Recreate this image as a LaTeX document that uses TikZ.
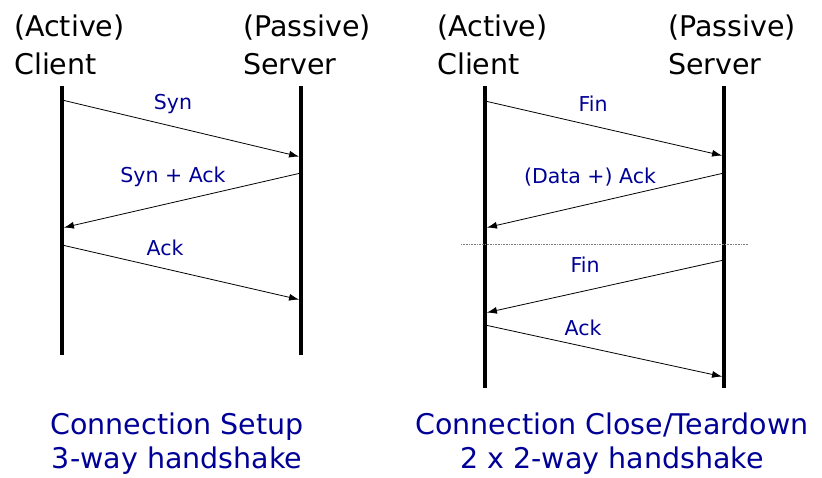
\documentclass[tikz,border=0pt]{standalone}
\usepackage{fontspec}
\setmainfont{DejaVu Sans}
\usetikzlibrary{arrows.meta}
\definecolor{msgblue}{RGB}{0,0,150}

\begin{document}
\begin{tikzpicture}[x=1pt, y=-1pt,
  lifeline/.style={line width=4pt},
  msg/.style={-{Latex[length=10pt,width=7pt]}, line width=0.8pt, shorten >=2pt},
  msglabel/.style={text=msgblue, font=\fontsize{20.5}{24}\selectfont},
  party/.style={align=left, anchor=north west, inner sep=0pt, font=\fontsize{28.5}{38}\selectfont},
  caption/.style={text=msgblue, align=center, font=\fontsize{28.5}{34}\selectfont}
]
\useasboundingbox (0,0) rectangle (822,478);

% Connection setup
\node[party] (act1) at (14,15) {(Active)\\Client};
\node[party] (pas1) at (243,15) {(Passive)\\Server};
\coordinate (c1top) at (62,86);  \coordinate (c1bot) at (62,355);
\coordinate (s1top) at (301,86); \coordinate (s1bot) at (301,355);
\draw[lifeline] (c1top) -- (c1bot);
\draw[lifeline] (s1top) -- (s1bot);

\coordinate (syn0) at (62,100);  \coordinate (syn1) at (301,157);
\coordinate (sa0) at (301,173);  \coordinate (sa1) at (62,228);
\coordinate (ack0) at (62,245);  \coordinate (ack1) at (301,300);
\draw[msg] (syn0) -- (syn1);
\draw[msg] (sa0) -- (sa1);
\draw[msg] (ack0) -- (ack1);
\node[msglabel] (synlbl) at (173,104) {Syn};
\node[msglabel] (salbl) at (173,177) {Syn + Ack};
\node[msglabel] (acklbl) at (165,248) {Ack};

\node[caption] (setup) at (177,444) {Connection Setup\\3-way handshake};

% Connection teardown
\node[party] (act2) at (437,15) {(Active)\\Client};
\node[party] (pas2) at (668,15) {(Passive)\\Server};
\coordinate (c2top) at (485,86);  \coordinate (c2bot) at (485,388);
\coordinate (s2top) at (724,86);  \coordinate (s2bot) at (724,388);
\draw[lifeline] (c2top) -- (c2bot);
\draw[lifeline] (s2top) -- (s2bot);

\coordinate (fin0) at (485,101); \coordinate (fin1) at (724,156);
\coordinate (da0) at (724,173);  \coordinate (da1) at (485,228);
\coordinate (fb0) at (724,260);  \coordinate (fb1) at (485,313);
\coordinate (ab0) at (485,325);  \coordinate (ab1) at (724,377);
\draw[msg] (fin0) -- (fin1);
\draw[msg] (da0) -- (da1);
\draw[msg] (fb0) -- (fb1);
\draw[msg] (ab0) -- (ab1);
\node[msglabel] (finlbl) at (593,104) {Fin};
\node[msglabel] (dalbl) at (590,177) {(Data +) Ack};
\node[msglabel] (fblbl) at (585,265) {Fin};
\node[msglabel] (ablbl) at (583,328) {Ack};

% half-close separator
\coordinate (sep0) at (461,244); \coordinate (sep1) at (748,244);
\draw[gray, line width=0.6pt, densely dotted] (sep0) -- (sep1);

\node[caption] (teardown) at (612,444) {Connection Close/Teardown\\2 x 2-way handshake};
\end{tikzpicture}
\end{document}
